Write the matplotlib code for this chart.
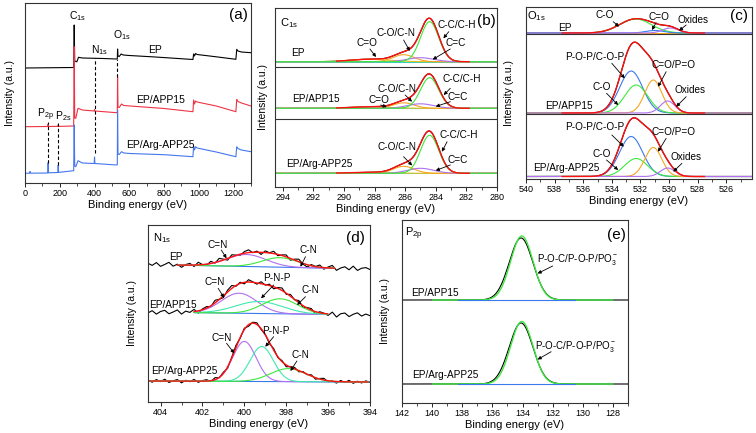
import numpy as np
import matplotlib
matplotlib.use('Agg')
import matplotlib.pyplot as plt
from matplotlib.ticker import MultipleLocator

plt.rcParams['font.family'] = ['Liberation Sans', 'DejaVu Sans']
plt.rcParams['mathtext.fontset'] = 'custom'
plt.rcParams['mathtext.rm'] = 'Liberation Sans'
plt.rcParams['mathtext.it'] = 'Liberation Sans:italic'

# ---------------- data: (a) survey spectra ----------------
survey_EP_be = [0, 280, 283, 286, 298, 308, 330, 450, 527, 531, 532.5, 535, 542, 553, 565, 600, 750,
                966, 970, 975, 981, 990, 1100, 1213, 1218, 1225, 1245, 1300]
survey_EP_int = [115, 115.5, 158, 122, 121.2, 125.7, 125, 124.5, 124, 124.5, 134, 127, 126.5, 129, 128,
                 127.5, 126, 123.5, 129, 127, 129.5, 128.5, 126.2, 123.7, 133.7, 132, 131, 130.3]
survey_APP15_be = [0, 131, 133, 135, 189, 191, 193, 280, 283, 286, 292, 305, 330, 398, 400, 402, 527, 531,
                   532.5, 535, 542, 555, 568, 605, 800, 966, 970, 975, 981, 990, 1100, 1213, 1218, 1225,
                   1245, 1300]
survey_APP15_int = [56.3, 56.5, 59, 56.5, 56.6, 58, 56.6, 57, 136.3, 65, 64.7, 74.7, 73, 72, 73.5, 72, 70.3,
                    70.8, 106.3, 75.7, 75.5, 79, 77.5, 77, 74.5, 71.3, 83, 79, 82, 81, 77, 71.3, 83.7, 81.5,
                    80, 77]
survey_Arg_be = [0, 26, 29, 32, 131, 133, 135, 189, 191, 193, 280, 283, 286, 292, 305, 330, 398, 400, 402,
                 527, 531, 532.5, 535, 542, 555, 568, 605, 800, 966, 970, 975, 981, 990, 1100, 1213, 1218,
                 1225, 1245, 1300]
survey_Arg_int = [9.7, 9.8, 11.5, 9.8, 10, 20.3, 10.2, 10.5, 18, 10.6, 12.3, 58, 17, 16.3, 22.3, 20, 19.5,
                  26, 19.5, 18, 18.3, 73, 29, 28.5, 31.3, 30, 29.5, 28.3, 26.3, 37, 33, 36.3, 35, 31, 26.3,
                  36.3, 34.5, 33, 31.3]
survey_marks_be = [133, 191, 400, 532]
survey_marks_top = [61.3, 59.7, 124.7, 123.7]
survey_marks_bottom = [20.3, 18, 30.3, 105.7]

# ---------------- data: (b) C1s fits ----------------
C1s_center = [284.4, 285.0, 286.1, 288.3]          # C-C/C-H, C=C, C-O/C-N, C=O
C1s_fwhm = [1.4, 2.0, 1.6, 3.0]
C1s_height_EP = [40, 4, 7, 2.5]
C1s_height_APP15 = [30.6, 4.5, 5.5, 1.5]
C1s_height_Arg = [38, 5, 7, 1.0]
C1s_base = [125.3, 78.7, 13.7]

# ---------------- data: (c) O1s fits ----------------
O1s_EP_center = [532.35, 531.0, 529.9]               # C-O, C=O, Oxides
O1s_EP_height = [14, 2.5, 5]
O1s_EP_fwhm = [2.6, 1.5, 1.3]
O1s_center = [532.65, 532.3, 531.1, 530.1]           # P-O-P/C-O-P, C-O, C=O/P=O, Oxides
O1s_fwhm = [1.9, 1.9, 1.4, 1.2]
O1s_height_APP15 = [42, 28, 33, 12]
O1s_height_Arg = [40, 18, 29, 8.5]
O1s_base = [146.0, 66.0, 2.5]

# ---------------- data: (d) N1s fits ----------------
N1s_EP_center = [399.9, 398.3]                        # C=N, C-N
N1s_EP_height = [12, 9.5]
N1s_EP_fwhm = [2.2, 2.0]
N1s_APP15_center = [400.25, 399.3, 398.3]              # C=N, P-N-P, C-N
N1s_APP15_height = [20, 12, 15]
N1s_APP15_fwhm = [2.0, 2.6, 2.0]
N1s_Arg_center = [400.0, 399.17, 397.9]
N1s_Arg_height = [40, 35, 13]
N1s_Arg_fwhm = [1.3, 1.3, 2.0]
N1s_base_left = [137.5, 90, 21]
N1s_base_right = [133, 87, 20]
N1s_noise_EP = [1.2, -0.8, 2.1, -1.6, 0.4, 2.6, -1.2, 0.9, -2.2, 0.6,
                1.8, -1.4, 2.7, 0.1, -1.1, 2.2, -0.6, 3.0, 0.8, -1.7,
                2.1, 0.3, -1.2, 1.6, 2.8, -0.4, 1.1, -2.1, 1.7, 0.2,
                2.3, -1.3, 0.6, 1.9, -1.8, 1.0, 2.6, -0.7, -2.3, 1.2,
                0.1, 2.2, -1.6, 0.9, 2.7, -2.1, 0.4, 1.7, -1.2, 2.5,
                -1.7, 0.6, 1.3, -0.5]
N1s_noise_APP15 = [-0.9, 1.4, -2.0, 0.7, 1.9, -1.5, 0.3, 2.4, -1.8, 1.1,
                   -0.4, 2.2, -2.3, 0.8, 1.5, -1.0, 2.6, 0.2, -1.9, 1.7,
                   2.9, -0.8, 1.2, -1.6, 2.3, 0.5, -1.3, 2.0, -0.6, 1.4,
                   -2.1, 0.9, 2.5, -1.1, 1.8, -0.3, 2.2, -1.7, 0.6, 1.5,
                   -2.4, 1.0, 0.2, -1.5, 2.1, -2.6, 0.8, 1.6, -1.9, 0.5,
                   2.0, -1.2, 0.9, -0.7]
N1s_noise_Arg = [0.8, -1.2, 1.5, -0.6, 1.9, -1.4, 0.3, 1.6, -1.7, 0.9,
                 -0.5, 1.8, -1.1, 0.6, 1.4, -0.9, 2.0, -0.3, 1.2, -1.5,
                 0.7, 2.2, -0.8, 1.3, -1.6, 0.9, 1.7, -1.0, 0.4, -1.3,
                 1.6, -0.7, 1.1, -1.8, 0.5, 1.4, -1.2, 0.8, -0.4, 1.3,
                 -1.5, 0.6, 1.7, -1.1, 0.3, -1.6, 1.2, -0.6, 1.5, -1.4,
                 0.7, -1.0, 1.1, -0.3]

# ---------------- data: (e) P2p fits ----------------
P2p_raw_center = 134.1
P2p_raw_height = [62, 61]
P2p_raw_fwhm = 1.85
P2p_fit_center = 134.05
P2p_fit_height = [64, 62.5]
P2p_fit_fwhm = 1.75
P2p_base = [103, 19]

# ---------------- styling ----------------
W, H = 756, 433
fig = plt.figure(figsize=(W / 100, H / 100), dpi=100)

def add_ax(l, r, t, b):
    return fig.add_axes([l / W, 1 - b / H, (r - l) / W, (b - t) / H])

RED = '#ff1010'
GREEN = '#3de83d'
PURPLE = '#b070f0'
ORANGE = '#f5a623'
YELLOW = '#e8c020'
BLUE = '#3a78f0'
CYAN = '#40e8b0'
TEAL = '#30d0c0'
FS = 7.2

def gauss(x, c, h, w):
    return h * np.exp(-4 * np.log(2) * ((x - c) / w) ** 2)

def style(ax, xlim, major, minor, ylim):
    ax.set_xlim(*xlim)
    ax.set_ylim(*ylim)
    ax.xaxis.set_major_locator(MultipleLocator(major))
    ax.xaxis.set_minor_locator(MultipleLocator(minor))
    ax.set_yticks([])
    ax.tick_params(axis='x', which='major', direction='out', length=3, width=0.6, labelsize=6.5, pad=1.5)
    ax.tick_params(axis='x', which='minor', direction='out', length=1.8, width=0.5)
    for s in ax.spines.values():
        s.set_linewidth(0.8)
        s.set_color('#333333')
    ax.set_xlabel('Binding energy (eV)', fontsize=8, labelpad=1.5)

def note(ax, text, txy, tail, head, fs=FS):
    ax.text(txy[0], txy[1], text, ha='center', va='center', fontsize=fs)
    ax.annotate('', xy=head, xytext=tail,
                arrowprops=dict(arrowstyle='-|>', color='k', lw=0.6, mutation_scale=5,
                                shrinkA=0, shrinkB=0))

def ylab(ax, x):
    ax.set_ylabel('Intensity (a.u.)', fontsize=7.5)
    ax.yaxis.set_label_coords(x, 0.5)

# ================= (a) =================
axa = add_ax(25, 251, 3, 183)
axa.plot(survey_EP_be, survey_EP_int, color='black', lw=0.8)
axa.plot(survey_APP15_be, survey_APP15_int, color='#ee3344', lw=0.8)
axa.plot(survey_Arg_be, survey_Arg_int, color='#4477ee', lw=0.8)
for xb, yt, yb in zip(survey_marks_be, survey_marks_top, survey_marks_bottom):
    axa.plot([xb, xb], [yb, yt], color='black', lw=0.8, ls=(0, (3, 2)))
style(axa, (0, 1300), 200, 100, (0, 180))
ylab(axa, -0.046)
axa.text(300, 167, 'C$_{\\mathrm{1s}}$', ha='center', va='center', fontsize=7.5)
axa.text(426, 133, 'N$_{\\mathrm{1s}}$', ha='center', va='center', fontsize=7.5)
axa.text(557, 148, 'O$_{\\mathrm{1s}}$', ha='center', va='center', fontsize=7.5)
axa.text(115, 68, 'P$_{\\mathrm{2p}}$', ha='center', va='center', fontsize=7.5)
axa.text(221, 67, 'P$_{\\mathrm{2s}}$', ha='center', va='center', fontsize=7.5)
axa.text(750, 133, 'EP', ha='center', va='center', fontsize=7.5)
axa.text(780, 83, 'EP/APP15', ha='center', va='center', fontsize=7.5)
axa.text(780, 38, 'EP/Arg-APP25', ha='center', va='center', fontsize=7.5)
axa.text(1225, 168, '(a)', ha='center', va='center', fontsize=11)

# ================= (b) =================
axb = add_ax(275, 497, 8, 187)
xb = np.linspace(294.5, 280, 400)
C1s_colors = [GREEN, PURPLE, ORANGE, YELLOW]
for base, heights in zip(C1s_base, [C1s_height_EP, C1s_height_APP15, C1s_height_Arg]):
    comps = [gauss(xb, c, h, w) for c, h, w in zip(C1s_center, heights, C1s_fwhm)]
    env = base + np.sum(comps, axis=0)
    axb.plot(xb, env, color='black', lw=0.8)
    axb.plot(xb, np.full_like(xb, base), color=TEAL, lw=0.7)
    for comp, col in zip(comps[::-1], C1s_colors[::-1]):
        axb.plot(xb, base + comp, color=col, lw=0.8)
    m = (xb < 290.5) & (xb > 281.8)
    axb.plot(xb[m], env[m], color=RED, lw=1.0)
for ysep in [120.5, 68.5]:
    axb.axhline(ysep, color='#333333', lw=0.8)
style(axb, (294.5, 280), 2, 1, (0, 179))
ylab(axb, -0.033)
axb.text(293.6, 164, 'C$_{\\mathrm{1s}}$', ha='center', va='center', fontsize=8)
axb.text(280.72, 165.5, '(b)', ha='center', va='center', fontsize=11)
axb.text(293.0, 133.7, 'EP', ha='center', va='center', fontsize=FS)
axb.text(291.8, 88, 'EP/APP15', ha='center', va='center', fontsize=FS)
axb.text(291.6, 22.7, 'EP/Arg-APP25', ha='center', va='center', fontsize=FS)
note(axb, 'C=O', (288.5, 143.7), (288.3, 138), (287.9, 130))
note(axb, 'C-O/C-N', (286.6, 153.7), (286.1, 147), (285.7, 136))
note(axb, 'C-C/C-H', (282.6, 161.5), (283.15, 155.3), (283.5, 148.7))
note(axb, 'C=C', (282.7, 144.3), (283.05, 138), (284.2, 127.5))
note(axb, 'C=O', (287.7, 87), (287.6, 82), (287.2, 80))
note(axb, 'C-O/C-N', (286.5, 97.7), (286.0, 92), (285.55, 85.3))
note(axb, 'C-C/C-H', (282.3, 107.7), (283.05, 98.7), (283.48, 92))
note(axb, 'C=C', (282.6, 90.3), (283.05, 85.3), (284.0, 80.5))
note(axb, 'C-O/C-N', (286.5, 40.3), (286.1, 30.3), (285.54, 21.5))
note(axb, 'C-C/C-H', (282.5, 52), (283.26, 45.3), (283.6, 35.3))
note(axb, 'C=C', (282.6, 27), (283.05, 22), (284.0, 16.5))

# ================= (c) =================
axc = add_ax(526, 752, 7, 179)
xc = np.linspace(540, 524.2, 400)
comps = [gauss(xc, c, h, w) for c, h, w in zip(O1s_EP_center, O1s_EP_height, O1s_EP_fwhm)]
env = O1s_base[0] + np.sum(comps, axis=0)
axc.plot(xc, env, color='black', lw=0.8)
axc.plot(xc, np.full_like(xc, O1s_base[0]), color=ORANGE, lw=0.8)
for comp, col in zip(comps, [GREEN, BLUE, PURPLE]):
    axc.plot(xc, O1s_base[0] + comp, color=col, lw=0.8)
m = (xc < 537.5) & (xc > 527.5)
axc.plot(xc[m], env[m], color=RED, lw=1.0)
O1s_colors = [BLUE, GREEN, ORANGE, PURPLE]
for base, heights in zip(O1s_base[1:], [O1s_height_APP15, O1s_height_Arg]):
    comps = [gauss(xc, c, h, w) for c, h, w in zip(O1s_center, heights, O1s_fwhm)]
    env = base + np.sum(comps, axis=0)
    axc.plot(xc, env, color='black', lw=0.8)
    for comp, col in zip(comps, O1s_colors):
        axc.plot(xc, base + comp, color=col, lw=0.8)
    axc.plot(xc[m], env[m], color=RED, lw=1.0)
for ysep in [145.5, 65.5]:
    axc.axhline(ysep, color='#333333', lw=0.8)
style(axc, (540, 524.2), 2, 1, (0, 172))
ylab(axc, -0.051)
axc.text(539.3, 163, 'O$_{\\mathrm{1s}}$', ha='center', va='center', fontsize=8)
axc.text(525.1, 163, '(c)', ha='center', va='center', fontsize=11)
axc.text(537.3, 150.7, 'EP', ha='center', va='center', fontsize=FS)
axc.text(537.0, 73, 'EP/APP15', ha='center', va='center', fontsize=FS)
axc.text(537.2, 10.7, 'EP/Arg-APP25', ha='center', va='center', fontsize=FS)
note(axc, 'C-O', (534.5, 164), (533.9, 157.3), (533.5, 152.3))
note(axc, 'C=O', (530.7, 161.7), (530.9, 156.3), (531.2, 149))
note(axc, 'Oxides', (528.3, 159), (528.8, 154), (529.3, 148.3))
note(axc, 'P-O-P/C-O-P', (535.2, 122.3), (534.0, 115.7), (533.1, 100.7))
note(axc, 'C-O', (534.7, 91.7), (534.37, 85.7), (533.56, 74))
note(axc, 'C=O/P=O', (529.7, 114), (530.2, 107.3), (530.77, 92.3))
note(axc, 'Oxides', (528.55, 89), (528.8, 82.3), (529.5, 72.3))
note(axc, 'P-O-P/C-O-P', (535.2, 51.7), (534.0, 44), (533.16, 32.3))
note(axc, 'C-O', (534.7, 25), (534.37, 19), (533.56, 9))
note(axc, 'C=O/P=O', (529.7, 47.3), (530.2, 40.7), (530.77, 27.3))
note(axc, 'Oxides', (528.8, 21.7), (529.1, 15.7), (529.7, 7.3))

# ================= (d) =================
axd = add_ax(148, 370, 225, 402)
xd = np.linspace(404.6, 394.0, 400)
rows = [(N1s_EP_center, N1s_EP_height, N1s_EP_fwhm, N1s_noise_EP, [PURPLE, GREEN], (403.2, 395.7)),
        (N1s_APP15_center, N1s_APP15_height, N1s_APP15_fwhm, N1s_noise_APP15, [PURPLE, CYAN, GREEN], (402.4, 396.0)),
        (N1s_Arg_center, N1s_Arg_height, N1s_Arg_fwhm, N1s_noise_Arg, [PURPLE, CYAN, GREEN], (404.5, 394.1))]
for i, (cen, hei, fw, noise, cols, rng) in enumerate(rows):
    bl, br = N1s_base_left[i], N1s_base_right[i]
    xr = np.linspace(404.6, 394.0, len(noise))
    bgr = bl + (br - bl) * (404.6 - xr) / 10.6
    raw = bgr + np.sum([gauss(xr, c, h, w) for c, h, w in zip(cen, hei, fw)], axis=0) + np.array(noise)
    axd.plot(xr, raw, color='black', lw=0.8)
    m = (xd <= rng[0]) & (xd >= rng[1])
    bg = bl + (br - bl) * (404.6 - xd[m]) / 10.6
    comps = [gauss(xd[m], c, h, w) for c, h, w in zip(cen, hei, fw)]
    axd.plot(xd[m], bg, color=BLUE, lw=0.8)
    for comp, col in zip(comps, cols):
        axd.plot(xd[m], bg + comp, color=col, lw=0.8)
    axd.plot(xd[m], bg + np.sum(comps, axis=0), color=RED, lw=1.0)
style(axd, (404.6, 394.0), 2, 1, (0, 177))
ylab(axd, -0.05)
axd.text(403.95, 163.7, 'N$_{\\mathrm{1s}}$', ha='center', va='center', fontsize=8)
axd.text(394.7, 163.7, '(d)', ha='center', va='center', fontsize=11)
axd.text(403.25, 145.3, 'EP', ha='center', va='center', fontsize=FS)
axd.text(403.4, 97, 'EP/APP15', ha='center', va='center', fontsize=FS)
axd.text(402.85, 31, 'EP/Arg-APP25', ha='center', va='center', fontsize=FS)
note(axd, 'C=N', (401.25, 157.5), (401.1, 152), (400.85, 143.7))
note(axd, 'C-N', (396.96, 152), (397.08, 145.3), (397.32, 135.3))
note(axd, 'C=N', (401.4, 119.7), (401.25, 113.7), (400.97, 104.3))
note(axd, 'P-N-P', (398.44, 123.7), (398.6, 117), (399.2, 103.7))
note(axd, 'C-N', (396.85, 112), (397.08, 105.3), (397.48, 97))
note(axd, 'C=N', (401.08, 63.7), (400.85, 58.7), (400.48, 48.7))
note(axd, 'P-N-P', (398.5, 71), (398.6, 65.3), (399.0, 55.3))
note(axd, 'C-N', (397.3, 47), (397.49, 41), (397.8, 31))

# ================= (e) =================
axe = add_ax(402, 628, 220, 403)
xe = np.linspace(142, 127, 400)
for i in range(2):
    base = P2p_base[i]
    axe.plot(xe, base + gauss(xe, P2p_raw_center, P2p_raw_height[i], P2p_raw_fwhm), color='black', lw=0.8)
    m = (xe <= 140.0) & (xe >= 128.0)
    axe.plot(xe[m], base + gauss(xe[m], P2p_fit_center, P2p_fit_height[i], P2p_fit_fwhm), color=GREEN, lw=1.0)
    m2 = (xe <= 138.3) & (xe >= 130.5)
    axe.plot(xe[m2], np.full(m2.sum(), base), color=BLUE, lw=0.8)
style(axe, (142, 127), 2, 1, (0, 183))
ylab(axe, -0.055)
axe.text(141.2, 169.7, 'P$_{\\mathrm{2p}}$', ha='center', va='center', fontsize=8)
axe.text(127.8, 168, '(e)', ha='center', va='center', fontsize=11)
axe.text(139.8, 110.3, 'EP/APP15', ha='center', va='center', fontsize=FS)
axe.text(139.1, 28, 'EP/Arg-APP25', ha='center', va='center', fontsize=FS)
note(axe, 'P-O-C/P-O-P/PO$_3^-$', (130.35, 143.7), (132.0, 137), (133.0, 129.5), fs=7)
note(axe, 'P-O-C/P-O-P/PO$_3^-$', (130.45, 57), (132.1, 51.3), (133.0, 43.5), fs=7)

fig.savefig('out.png', dpi=100)
